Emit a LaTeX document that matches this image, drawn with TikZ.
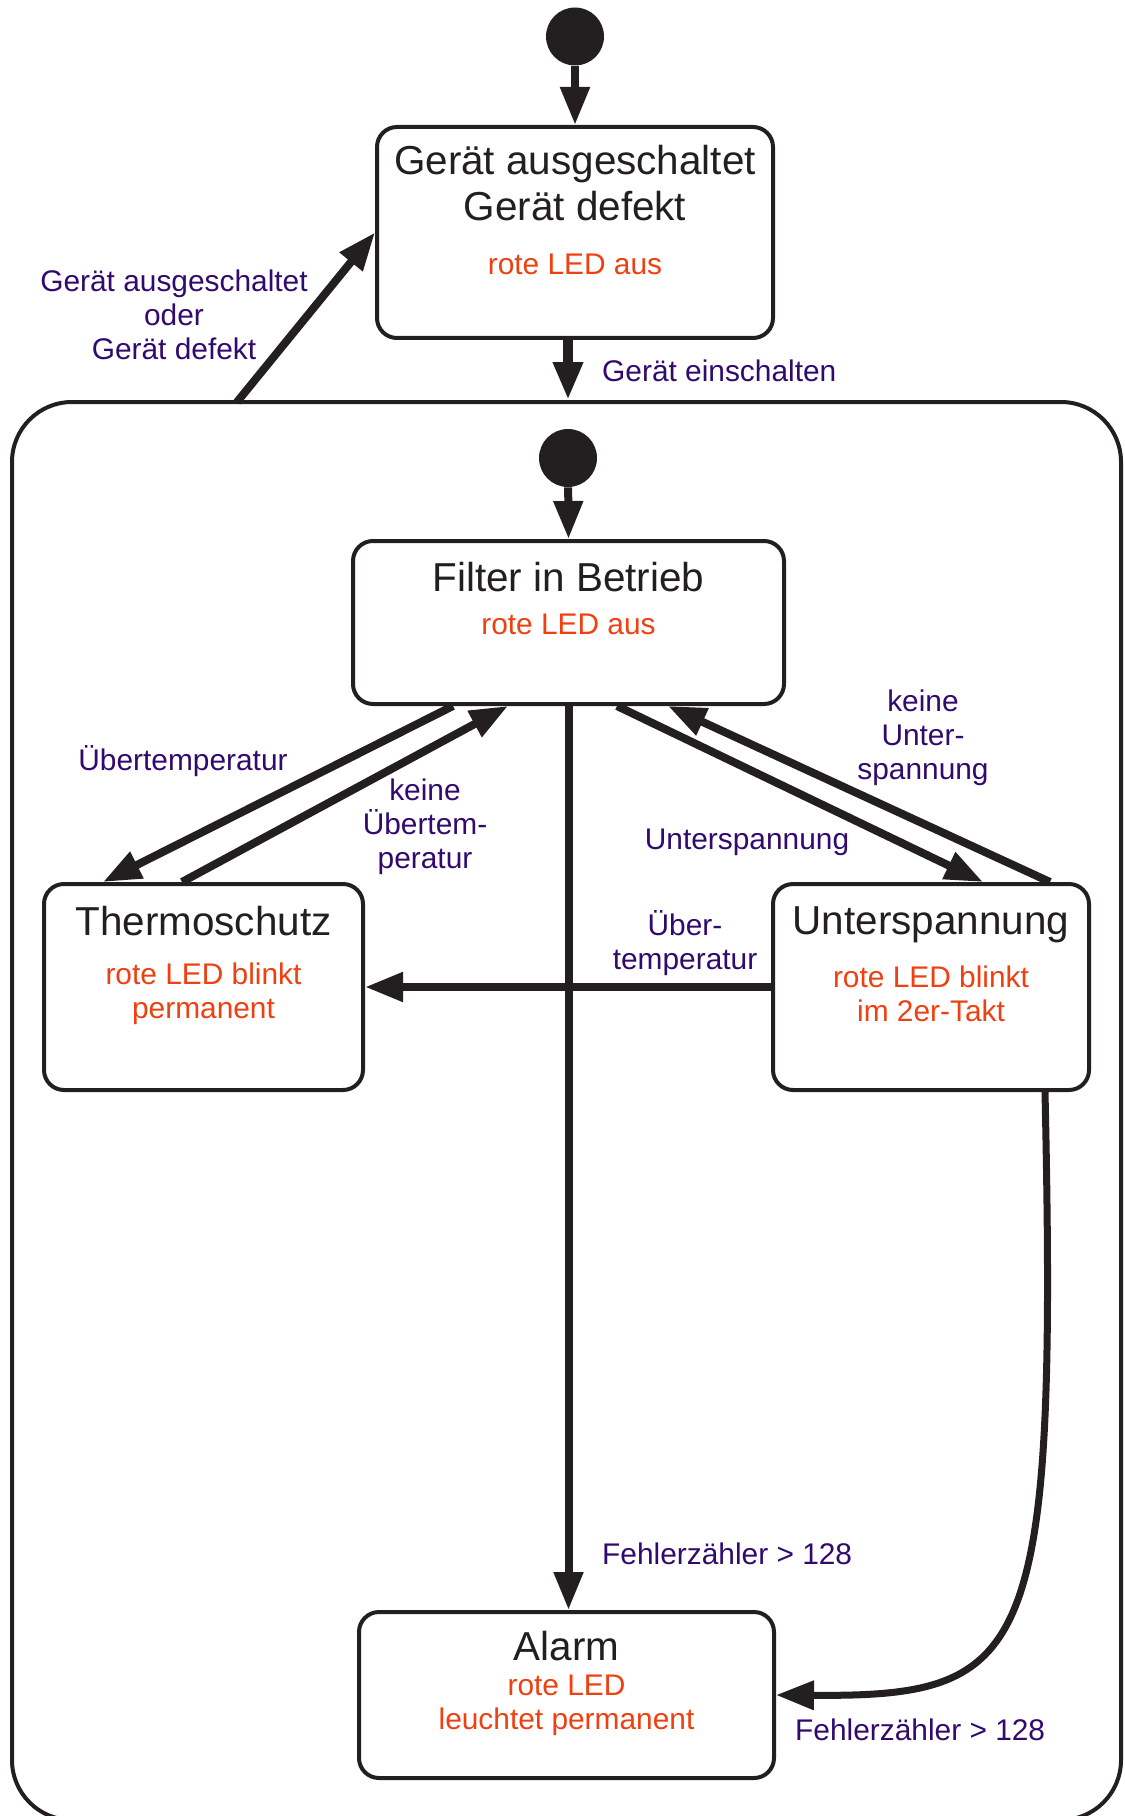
\documentclass[tikz,border=0pt]{standalone}
\usepackage{fontspec}
\setmainfont{Liberation Sans}
\usetikzlibrary{arrows.meta}
\definecolor{ink}{RGB}{35,31,32}
\definecolor{ledred}{RGB}{238,64,16}
\definecolor{evt}{RGB}{50,10,110}
\newcommand{\titlefont}{\fontsize{23}{26}\selectfont}
\newcommand{\labelfont}{\fontsize{17}{19.5}\selectfont}

\begin{document}
\begin{tikzpicture}[
    state/.style={draw=ink, line width=0.08cm, rounded corners=0.4cm, inner sep=0pt},
    pseudo/.style={circle, fill=ink, minimum size=1.16cm, inner sep=0pt},
    statetitle/.style={text=ink, font=\titlefont, align=center},
    led/.style={text=ledred, font=\labelfont, align=center},
    trigger/.style={text=evt, font=\labelfont, align=center},
    trans/.style={draw=ink, line width=0.16cm, -{Triangle[length=0.76cm,width=0.56cm]}}
  ]
    \useasboundingbox (0,0) rectangle (22.5,-36.32);

    % outer state
    \node[state, rounded corners=1.2cm, minimum width=22.18cm, minimum height=28.36cm] (betrieb) at (11.33,-22.22) {};

    \node[pseudo] (start) at (11.5,-0.73) {};
    \node[state, minimum width=7.92cm, minimum height=4.22cm] (off) at (11.5,-4.65) {};
    \node[statetitle] (offtitle) at (11.5,-3.66) {Gerät ausgeschaltet\\Gerät defekt};
    \node[led] (offled) at (11.5,-5.28) {rote LED aus};

    \node[pseudo] (substart) at (11.36,-9.16) {};
    \node[state, minimum width=8.62cm, minimum height=3.26cm] (filter) at (11.37,-12.45) {};
    \node[statetitle] (filtertitle) at (11.37,-11.54) {Filter in Betrieb};
    \node[led] (filterled) at (11.37,-12.48) {rote LED aus};

    \node[state, minimum width=6.38cm, minimum height=4.12cm] (thermo) at (4.07,-19.74) {};
    \node[statetitle] (thermotitle) at (4.07,-18.42) {Thermoschutz};
    \node[led] (thermoled) at (4.07,-19.88) {rote LED blinkt\\permanent};

    \node[state, minimum width=6.32cm, minimum height=4.12cm] (unter) at (18.62,-19.74) {};
    \node[statetitle] (untertitle) at (18.62,-18.5) {Unterspannung};
    \node[led] (unterled) at (18.62,-19.87) {rote LED blinkt\\im 2er-Takt};

    \node[state, minimum width=8.3cm, minimum height=3.32cm] (alarm) at (11.33,-33.9) {};
    \node[statetitle] (alarmtitle) at (11.33,-32.92) {Alarm};
    \node[led] (alarmled) at (11.33,-34.1) {rote LED\\leuchtet permanent};

    \coordinate (leave) at (4.74,-8.04);

    % transitions
    \draw[trans] (start) -- (off.north);
    \draw[trans, line width=0.2cm] (off.south -| substart) -- (substart |- betrieb.north);
    \draw[trans] (leave) -- (off.west);
    \draw[trans] (substart) -- (filter.north);
    \draw[trans] ([xshift=-2.31cm]filter.south) -- ([xshift=-2.01cm]thermo.north);
    \draw[trans] ([xshift=-0.43cm]thermo.north) -- ([xshift=-1.21cm]filter.south);
    \draw[trans] ([xshift=0.97cm]filter.south) -- ([xshift=1.04cm]unter.north);
    \draw[trans] ([xshift=2.38cm]unter.north) -- ([xshift=1.99cm]filter.south);
    \draw[trans] (filter.south) -- (filter.south |- alarm.north);
    \draw[trans] (unter.west) -- (thermo.east);
    \draw[trans, line width=0.14cm] ([xshift=2.28cm]unter.south) .. controls (21.15,-33.2) and (20.6,-33.94) .. (alarm.east);

    % labels
    \node[trigger] (offlabel) at (3.48,-6.3) {Gerät ausgeschaltet\\oder\\Gerät defekt};
    \node[trigger, anchor=west] (onlabel) at (11.92,-7.42) {Gerät einschalten};
    \node[trigger] (hotlabel) at (3.66,-15.22) {Übertemperatur};
    \node[trigger] (coollabel) at (8.5,-16.54) {keine\\Übertem-\\peratur};
    \node[trigger] (lowlabel) at (14.94,-16.84) {Unterspannung};
    \node[trigger] (oklabel) at (18.46,-14.76) {keine\\Unter-\\spannung};
    \node[trigger] (crosslabel) at (13.7,-18.86) {Über-\\temperatur};
    \node[trigger, anchor=west] (countlabel) at (11.92,-31.08) {Fehlerzähler > 128};
    \node[trigger, anchor=west] (countlabelb) at (15.78,-34.6) {Fehlerzähler > 128};
\end{tikzpicture}
\end{document}
